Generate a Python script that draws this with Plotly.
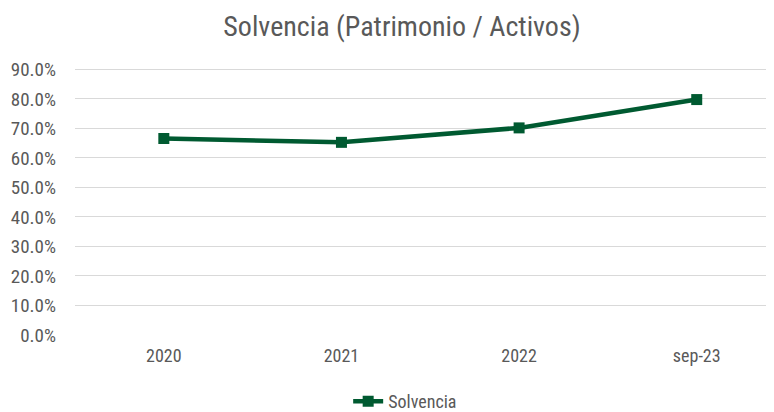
import plotly.graph_objects as go

categories = ["2020", "2021", "2022", "sep-23"]
solvencia = [0.666, 0.653, 0.702, 0.798]
y_ticks = [0.0, 0.1, 0.2, 0.3, 0.4, 0.5, 0.6, 0.7, 0.8, 0.9]

FONT = "Roboto Condensed, Liberation Sans Narrow, Arial Narrow, sans-serif"
GREEN = "#005A31"
GRAY = "#595959"

fig = go.Figure()
fig.add_trace(go.Scatter(
    x=categories, y=solvencia, mode="lines+markers", name="Solvencia",
    line=dict(color=GREEN, width=4.5),
    marker=dict(symbol="square", size=11, color=GREEN),
))

fig.update_layout(
    width=774, height=412,
    margin=dict(l=67, r=0, t=60, b=84),
    paper_bgcolor="white", plot_bgcolor="white",
    title=dict(text="Solvencia (Patrimonio / Activos)", x=0.509, xanchor="center",
               y=0.955, yanchor="middle",
               font=dict(family=FONT, size=28, color=GRAY)),
    font=dict(family=FONT, size=18, color=GRAY),
    showlegend=True,
    legend=dict(orientation="h", x=0.467, xanchor="center", y=-0.249, yanchor="middle",
                font=dict(family=FONT, size=18, color=GRAY)),
    xaxis=dict(type="category", range=[-0.5, 3.48], showgrid=False,
               showline=False, ticks="", ticklabelstandoff=8,
               tickfont=dict(size=18, color=GRAY)),
    yaxis=dict(range=[0, 0.905], tickvals=y_ticks, tickformat=".1%",
               showgrid=True, gridcolor="#D9D9D9", gridwidth=1,
               zeroline=False, showline=False, ticks="",
               ticklabelstandoff=18, tickfont=dict(size=19, color=GRAY)),
)

fig.write_html("out.html")
